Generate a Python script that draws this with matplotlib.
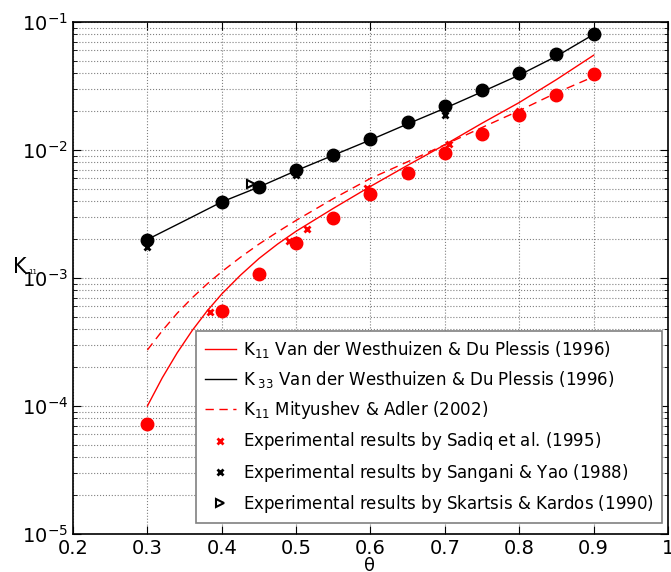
import numpy as np
from matplotlib import pyplot as plt

# numerical results (circles)
theta_num = [0.3, 0.4, 0.45, 0.5, 0.55, 0.6, 0.65, 0.7, 0.75, 0.8, 0.85, 0.9]
k33_num = [1.98e-3, 3.93e-3, 5.14e-3, 6.98e-3, 9.14e-3, 1.22e-2, 1.66e-2, 2.21e-2, 2.94e-2, 4.0e-2, 5.6e-2, 8.06e-2]
k11_num = [7.3e-5, 5.56e-4, 1.07e-3, 1.87e-3, 2.92e-3, 4.5e-3, 6.6e-3, 9.48e-3, 1.34e-2, 1.87e-2, 2.7e-2, 3.94e-2]

# model curves
theta_model = [0.3, 0.32, 0.34, 0.36, 0.38, 0.4, 0.425, 0.45, 0.475, 0.5,
               0.55, 0.6, 0.65, 0.7, 0.75, 0.8, 0.85, 0.9]
k11_vdw = [1.0e-4, 1.66e-4, 2.6e-4, 3.87e-4, 5.5e-4, 7.5e-4, 1.05e-3, 1.42e-3, 1.84e-3, 2.32e-3,
           3.5e-3, 5.2e-3, 7.6e-3, 1.1e-2, 1.62e-2, 2.35e-2, 3.55e-2, 5.5e-2]
k11_mit = [2.74e-4, 3.87e-4, 5.3e-4, 6.98e-4, 8.95e-4, 1.12e-3, 1.45e-3, 1.84e-3, 2.29e-3, 2.82e-3,
           4.17e-3, 6.0e-3, 8.1e-3, 1.1e-2, 1.5e-2, 2.03e-2, 2.8e-2, 3.74e-2]
theta_k33 = [0.3, 0.35, 0.4, 0.45, 0.5, 0.55, 0.6, 0.65, 0.7, 0.75, 0.8, 0.85, 0.9]
k33_vdw = [2.0e-3, 2.8e-3, 3.93e-3, 5.14e-3, 6.9e-3, 9.1e-3, 1.2e-2, 1.6e-2, 2.12e-2, 2.85e-2, 3.85e-2, 5.4e-2, 8.0e-2]

# experiments
theta_sadiq = [0.384, 0.49, 0.514, 0.595, 0.705, 0.80]
k11_sadiq = [5.4e-4, 1.94e-3, 2.43e-3, 5.08e-3, 1.11e-2, 2.03e-2]
theta_sangani = [0.3, 0.5, 0.7]
k33_sangani = [1.76e-3, 6.4e-3, 1.87e-2]
theta_skartsis = [0.439]
k33_skartsis = [5.4e-3]

fig = plt.figure(figsize=(6.71, 5.72), dpi=100)
ax = fig.add_axes([0.1088, 0.0664, 0.8867, 0.8951])

ax.plot(theta_model, k11_vdw, '-', color='red', lw=1,
        label=r'K$_{11}$ Van der Westhuizen & Du Plessis (1996)')
ax.plot(theta_k33, k33_vdw, '-', color='black', lw=1,
        label=r'K$_{\ 33}$ Van der Westhuizen & Du Plessis (1996)')
ax.plot(theta_model, k11_mit, '--', color='red', lw=1, dashes=(6, 4),
        label=r'K$_{11}$ Mityushev & Adler $\mathregular{(2002)}$')
ax.plot(theta_num, k33_num, 'o', color='black', ms=9)
ax.plot(theta_num, k11_num, 'o', color='red', ms=9)
ax.plot(theta_sadiq, k11_sadiq, 'x', color='red', ms=4, mew=2,
        label=r'Experimental results $\mathregular{by}$ Sadiq et al. (1995)')
ax.plot(theta_sangani, k33_sangani, 'x', color='black', ms=4, mew=2,
        label=r'Experimental results $\mathregular{by}$ Sangani & Yao (1988)')
ax.plot(theta_skartsis, k33_skartsis, '>', mfc='white', mec='black', ms=6, mew=1.5,
        label=r'Experimental results $\mathregular{by}$ Skartsis & Kardos (1990)')

ax.set_yscale('log')
ax.set_xlim(0.2, 1.0)
ax.set_ylim(1e-5, 1e-1)
ax.set_xticks(np.arange(0.2, 1.01, 0.1))
ax.set_xticklabels(['0.2', '0.3', '0.4', '0.5', '0.6', '0.7', '0.8', '0.9', '1'])
ax.tick_params(which='both', direction='in', top=True, right=True, labelsize=14)
ax.tick_params(which='major', length=6)
ax.tick_params(which='minor', length=3)
ax.grid(True, which='major', ls=':', color='gray', lw=0.8)
ax.grid(True, which='minor', axis='y', ls=':', color='gray', lw=0.8)
for s in ax.spines.values():
    s.set_linewidth(1.2)

# axis labels placed by hand like the original
fig.text(370 / 671, 1 - 566 / 572, '\u03b8', fontsize=13, ha='center', va='center')
fig.text(20 / 671, 1 - 267 / 572, 'K', fontsize=15, ha='center', va='center')
fig.text(33 / 671, 1 - 272 / 572, '11', fontsize=5, ha='center', va='center')

leg = ax.legend(loc='lower right', bbox_to_anchor=(0.99, 0.0215), borderaxespad=0,
                fontsize=12, frameon=True, fancybox=False,
                edgecolor='gray', framealpha=1, handlelength=1.9, borderpad=0.5,
                labelspacing=0.55, handletextpad=0.4, numpoints=1)
leg.get_frame().set_linewidth(1.2)

fig.savefig('out.png', dpi=100)
